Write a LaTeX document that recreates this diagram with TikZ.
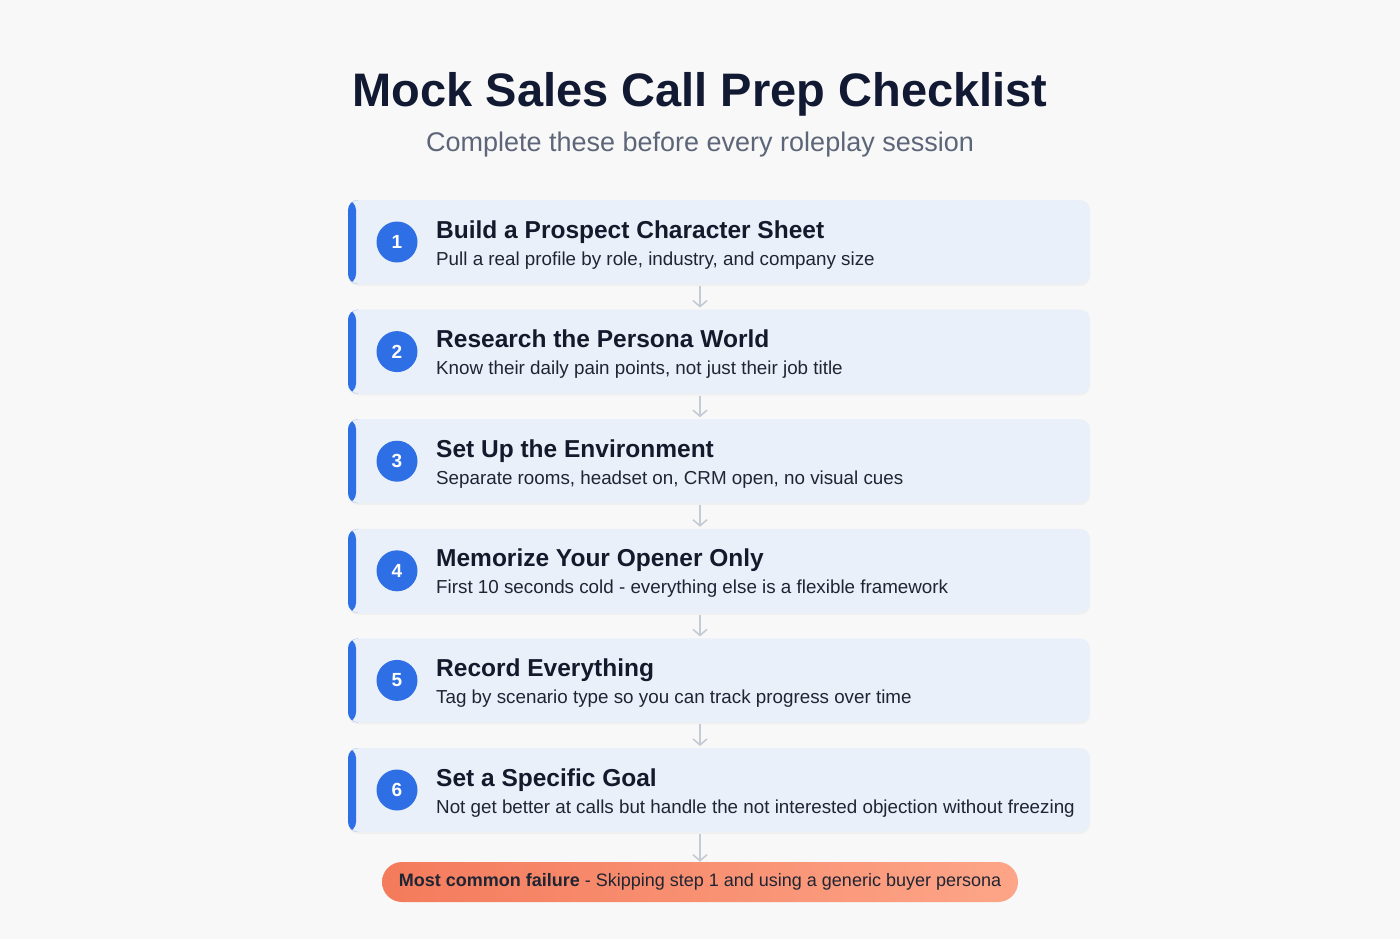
\documentclass[tikz,border=0pt]{standalone}
\usepackage{fontspec}
\setmainfont{Liberation Sans}
\usetikzlibrary{positioning,arrows.meta,shadows}

\definecolor{pagebg}{HTML}{F8F8F8}
\definecolor{titleink}{HTML}{121A33}
\definecolor{subink}{HTML}{5D6678}
\definecolor{cardfill}{HTML}{E9F0FA}
\definecolor{accent}{HTML}{2E6FE5}
\definecolor{headink}{HTML}{141A2B}
\definecolor{descink}{HTML}{1F2533}
\definecolor{arrowgrey}{HTML}{C4CBD5}
\definecolor{failleft}{HTML}{F47B5C}
\definecolor{failright}{HTML}{FDA588}

\tikzset{
  stepcard/.style={rectangle, rounded corners=10pt, fill=cardfill,
    minimum width=742pt, minimum height=84pt, inner sep=0pt, outer sep=0pt,
    drop shadow={opacity=0.06, shadow xshift=0pt, shadow yshift=-2pt},
    path picture={\fill[accent] (path picture bounding box.north west)
      rectangle ([xshift=8pt]path picture bounding box.south west);}},
  badge/.style={circle, fill=accent, minimum size=41pt, inner sep=0pt,
    text=white, font=\fontsize{19}{19}\selectfont\bfseries},
  steptitle/.style={anchor=base west, inner sep=0pt, text=headink,
    font=\fontsize{24.5}{24.5}\selectfont\bfseries},
  stepdesc/.style={anchor=base west, inner sep=0pt, text=descink,
    font=\fontsize{18.8}{18.8}\selectfont},
  flowarrow/.style={draw=arrowgrey, line width=1.6pt,
    -{Straight Barb[length=6pt,width=14pt]}},
}

\begin{document}
\begin{tikzpicture}[x=1pt, y=-1pt]
  % page
  \fill[pagebg] (0,0) rectangle (1400,939);
  \useasboundingbox (0,0) rectangle (1400,939);

  % heading
  \node[anchor=base, inner sep=0pt, text=titleink,
    font=\fontsize{47}{47}\selectfont\bfseries] (title) at (700,107)
    {Mock Sales Call Prep Checklist};
  \node[anchor=base, inner sep=0pt, text=subink,
    font=\fontsize{27}{27}\selectfont] (subtitle) at (700,152)
    {Complete these before every roleplay session};

  % the six steps
  \node[stepcard] (step1) at (719,242) {};
  \node[stepcard, below=25.6pt of step1] (step2) {};
  \node[stepcard, below=25.6pt of step2] (step3) {};
  \node[stepcard, below=25.6pt of step3] (step4) {};
  \node[stepcard, below=25.6pt of step4] (step5) {};
  \node[stepcard, below=25.6pt of step5] (step6) {};

  % numbers
  \node[badge] (num1) at ([xshift=49pt]step1.west) {1};
  \node[badge] (num2) at ([xshift=49pt]step2.west) {2};
  \node[badge] (num3) at ([xshift=49pt]step3.west) {3};
  \node[badge] (num4) at ([xshift=49pt]step4.west) {4};
  \node[badge] (num5) at ([xshift=49pt]step5.west) {5};
  \node[badge] (num6) at ([xshift=49pt]step6.west) {6};

  % texts of each step
  \node[steptitle] (head1) at ([xshift=88pt, yshift=4pt]step1.west) {Build a Prospect Character Sheet};
  \node[stepdesc] (desc1) at ([xshift=88pt, yshift=-23pt]step1.west) {Pull a real profile by role, industry, and company size};
  \node[steptitle] (head2) at ([xshift=88pt, yshift=4pt]step2.west) {Research the Persona World};
  \node[stepdesc] (desc2) at ([xshift=88pt, yshift=-23pt]step2.west) {Know their daily pain points, not just their job title};
  \node[steptitle] (head3) at ([xshift=88pt, yshift=4pt]step3.west) {Set Up the Environment};
  \node[stepdesc] (desc3) at ([xshift=88pt, yshift=-23pt]step3.west) {Separate rooms, headset on, CRM open, no visual cues};
  \node[steptitle] (head4) at ([xshift=88pt, yshift=4pt]step4.west) {Memorize Your Opener Only};
  \node[stepdesc] (desc4) at ([xshift=88pt, yshift=-23pt]step4.west) {First 10 seconds cold - everything else is a flexible framework};
  \node[steptitle] (head5) at ([xshift=88pt, yshift=4pt]step5.west) {Record Everything};
  \node[stepdesc] (desc5) at ([xshift=88pt, yshift=-23pt]step5.west) {Tag by scenario type so you can track progress over time};
  \node[steptitle] (head6) at ([xshift=88pt, yshift=4pt]step6.west) {Set a Specific Goal};
  \node[stepdesc] (desc6) at ([xshift=88pt, yshift=-23pt]step6.west) {Not get better at calls but handle the not interested objection without freezing};

  % warning pill at the bottom
  \node[rectangle, rounded corners=20pt, left color=failleft, right color=failright,
    minimum width=636pt, minimum height=40pt, inner sep=0pt, text=descink,
    font=\fontsize{18}{18}\selectfont] (failure) at (700,882)
    {\textbf{Most common failure} - Skipping step 1 and using a generic buyer persona};

  % arrows down the list
  \draw[flowarrow] ([yshift=-2pt]step1.south -| title) -- ([yshift=2pt]step2.north -| title);
  \draw[flowarrow] ([yshift=-2pt]step2.south -| title) -- ([yshift=2pt]step3.north -| title);
  \draw[flowarrow] ([yshift=-2pt]step3.south -| title) -- ([yshift=2pt]step4.north -| title);
  \draw[flowarrow] ([yshift=-2pt]step4.south -| title) -- ([yshift=2pt]step5.north -| title);
  \draw[flowarrow] ([yshift=-2pt]step5.south -| title) -- ([yshift=2pt]step6.north -| title);
  \draw[flowarrow] ([yshift=-2pt]step6.south -| title) -- (failure.north -| title);
\end{tikzpicture}
\end{document}
